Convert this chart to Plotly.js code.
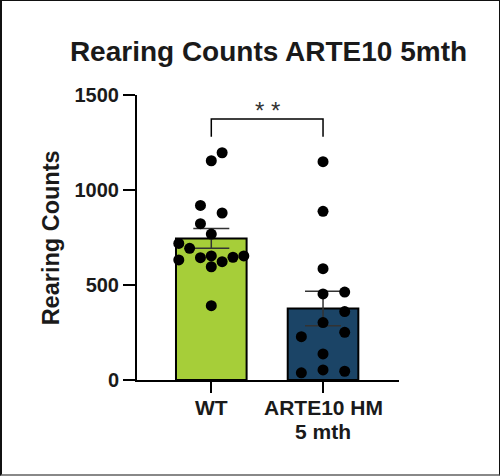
<!DOCTYPE html>
<html>
<head>
<meta charset="utf-8">
<script src="https://cdn.plot.ly/plotly-3.0.1.min.js"></script>
<style>
  html, body { margin: 0; padding: 0; background: #fff; }
  #wrap { position: relative; width: 500px; height: 476px; }
  #chart { position: absolute; left: 0; top: 0; width: 500px; height: 476px; }
  #frame { position: absolute; left: 0; top: 0; width: 500px; height: 476px; box-sizing: border-box;
           border-top: 1px solid #111; border-right: 1px solid #111; border-left: 2px solid #111; border-bottom: 2px solid #888; pointer-events: none; }
</style>
</head>
<body>
<div id="wrap"><div id="chart"></div><div id="frame"></div></div>
<script>
// ---- data ----
const categories = ['WT', 'ARTE10 HM<br>5 mth'];
const groupMeans = [745, 376];
const groupSEM = [52, 91];
const wtValues = [1196, 1154, 919, 879, 823, 768, 719, 693, 632, 644, 653, 596, 623, 646, 653, 391];
const hmValues = [1149, 888, 586, 453, 463, 360, 302, 251, 228, 137, 38, 53, 46];
const yTicks = [0, 500, 1000, 1500];
const sigLabel = '* *';
const chartTitle = 'Rearing Counts ARTE10 5mth';
const yTitle = 'Rearing Counts';

// ---- swarm layout (column index of each dot, layout only) ----
const wtSwarmCol = [1, 0, -1, 1, -1, 0, -3, -2, -3, -1, 0, 0, 1, 2, 3, 0];
const hmSwarmCol = [0, 0, 0, 0, 2, 2, 0, 2, -2, 0, -2, 0, 2];
const colStep = 0.097;

const font = "'Liberation Sans', Arial, sans-serif";
const txt = '#1a1a1a';

const bars = {
  type: 'bar',
  x: [0, 1],
  y: groupMeans,
  width: 0.632,
  marker: { color: ['#a6ce39', '#1b4466'], line: { color: '#000', width: 2 } },
  error_y: { type: 'data', array: groupSEM, visible: true, color: '#333', thickness: 1.5, width: 18 },
  hoverinfo: 'skip',
  showlegend: false
};

function dots(vals, cols, gi) {
  return {
    type: 'scatter', mode: 'markers',
    x: vals.map((v, i) => gi + cols[i] * colStep),
    y: vals,
    marker: { color: '#000', size: 11 },
    cliponaxis: false,
    showlegend: false,
    hoverinfo: 'y'
  };
}

const sigLow = 1280, sigHigh = 1374, sigText = 1421;

// category labels drawn as annotations (one per line) for tighter line spacing
const labelAnns = [];
categories.forEach((c, gi) => {
  c.split('<br>').forEach((line, li) => {
    labelAnns.push({
      text: line, x: gi, xref: 'x', y: 0, yref: 'paper', yshift: -27 - 24 * li,
      xanchor: 'center', yanchor: 'middle', showarrow: false,
      font: { family: font, size: 21, weight: 'bold', color: txt }
    });
  });
});

const layout = {
  width: 500, height: 476,
  margin: { l: 137, r: 101, t: 95, b: 96 },
  paper_bgcolor: '#fff', plot_bgcolor: '#fff',
  font: { family: font, color: txt },
  title: { text: chartTitle, x: 0.537, xanchor: 'center', y: 1 - 51 / 476, yanchor: 'middle',
           font: { family: font, size: 28, weight: 'bold', color: txt } },
  xaxis: {
    range: [-0.665, 1.68], tickvals: [0, 1], showticklabels: false,
    showline: true, linecolor: '#000', linewidth: 2,
    ticks: 'outside', ticklen: 11, tickwidth: 2, tickcolor: '#000',
    showgrid: false, zeroline: false
  },
  yaxis: {
    range: [0, 1500], tickvals: yTicks,
    showline: true, linecolor: '#000', linewidth: 2,
    ticks: 'outside', ticklen: 12, tickwidth: 2, tickcolor: '#000',
    showgrid: false, zeroline: false,
    tickfont: { family: font, size: 20, weight: 'bold', color: txt }
  },
  shapes: [{
    type: 'path', xref: 'x', yref: 'y',
    path: `M 0 ${sigLow} L 0 ${sigHigh} L 1 ${sigHigh} L 1 ${sigLow}`,
    line: { color: '#000', width: 1.5 }
  }],
  annotations: [
    { text: sigLabel, x: 0.5, y: sigText, xref: 'x', yref: 'y', showarrow: false,
      font: { family: font, size: 24, color: '#333' }, yanchor: 'middle' },
    { text: yTitle, textangle: -90, xref: 'paper', yref: 'paper', x: (51 - 137) / 262, y: 0.497,
      xanchor: 'center', yanchor: 'middle', showarrow: false,
      font: { family: font, size: 23.5, weight: 'bold', color: txt } }
  ].concat(labelAnns)
};

Plotly.newPlot('chart', [bars, dots(wtValues, wtSwarmCol, 0), dots(hmValues, hmSwarmCol, 1)], layout,
  { displayModeBar: false, staticPlot: true });
</script>
</body>
</html>
